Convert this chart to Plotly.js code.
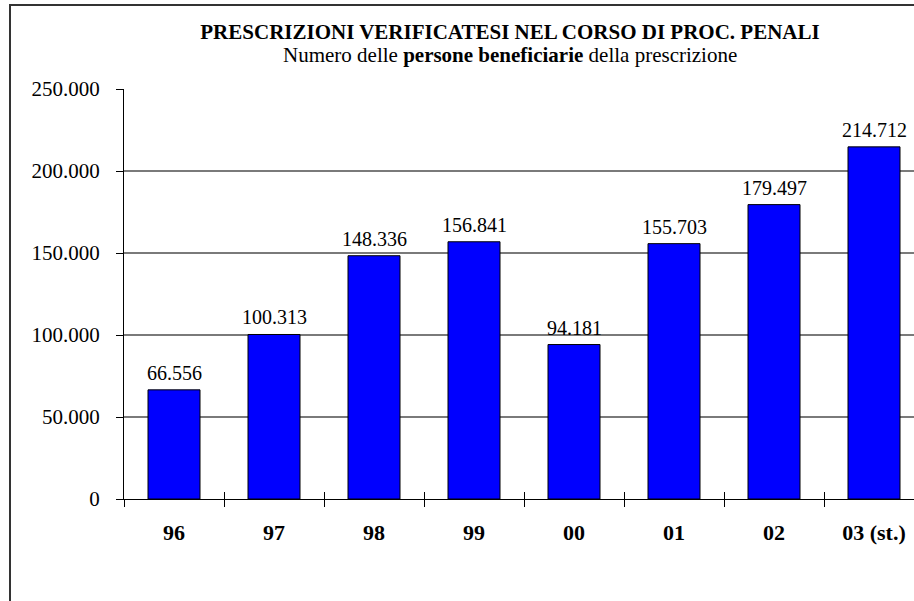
<!DOCTYPE html>
<html>
<head>
<meta charset="utf-8">
<script src="https://cdn.plot.ly/plotly-3.0.1.min.js"></script>
<style>
html, body { margin: 0; padding: 0; overflow: hidden; background: #fff; }
#chart { position: absolute; left: 0; top: 0; width: 914px; height: 601px; }
#frame { position: absolute; left: 9px; top: 4px; width: 2000px; height: 2000px;
  border-left: 2px solid #333; border-top: 2px solid #333; pointer-events: none; }
</style>
</head>
<body>
<div id="chart"></div>
<div id="frame"></div>
<script>
const categories = ["96", "97", "98", "99", "00", "01", "02", "03 (st.)"];
const persons = [66556, 100313, 148336, 156841, 94181, 155703, 179497, 214712];
const yTickVals = [0, 50000, 100000, 150000, 200000, 250000];
const boundaries = [-0.5, 0.5, 1.5, 2.5, 3.5, 4.5, 5.5, 6.5];

const serif = "Liberation Serif";

const bar = {
  type: "bar",
  x: categories,
  y: persons,
  width: 0.52,
  marker: { color: "#0000FF", line: { color: "#000000", width: 1 } },
  hoverinfo: "skip"
};

const labels = categories.map((c, i) => ({
  x: i, y: persons[i], xref: "x", yref: "y",
  text: persons[i].toLocaleString("it-IT"),
  showarrow: false, yanchor: "bottom", yshift: 4,
  font: { family: serif, size: 20, color: "#000", weight: "normal" }
}));

labels.push({
  xref: "paper", yref: "paper", x: 0.4886, y: 1.0, yanchor: "bottom", yshift: 20,
  text: "Numero delle <b>persone beneficiarie</b> della prescrizione",
  showarrow: false, font: { family: serif, size: 21, color: "#000" }
});

const layout = {
  width: 914, height: 601,
  margin: { l: 124, r: 0, t: 89, b: 102 },
  paper_bgcolor: "#fff", plot_bgcolor: "#fff",
  separators: ",.",
  showlegend: false,
  font: { family: serif, color: "#000" },
  title: {
    text: "<b>PRESCRIZIONI VERIFICATESI NEL CORSO DI PROC. PENALI</b>",
    x: 0.558, xanchor: "center", y: 0.948, yanchor: "middle",
    font: { family: serif, size: 21, color: "#000" }
  },
  xaxis: {
    type: "category", categoryarray: categories, range: [-0.5, 7.4],
    showline: true, linecolor: "#000", linewidth: 1,
    ticks: "outside", tickson: "boundaries", ticklen: 7, tickcolor: "#000", tickwidth: 1,
    ticklabelstandoff: 14,
    tickfont: { family: serif, size: 22, color: "#000", weight: "bold" },
    showgrid: false, fixedrange: true
  },
  xaxis2: {
    overlaying: "x", type: "linear", range: [-0.5, 7.4],
    tickmode: "array", tickvals: boundaries, ticks: "inside", ticklen: 7,
    tickcolor: "#000", tickwidth: 1, showticklabels: false, showgrid: false,
    showline: false, zeroline: false
  },
  yaxis: {
    range: [0, 250000], tickmode: "array", tickvals: yTickVals, tickformat: ",",
    showline: true, linecolor: "#000", linewidth: 1,
    ticks: "outside", ticklen: 7, tickcolor: "#000", tickwidth: 1,
    ticklabelstandoff: 12,
    showgrid: true, gridcolor: "#7a7a7a", gridwidth: 1.2, zeroline: false,
    tickfont: { family: serif, size: 21, color: "#000", weight: "normal" }, fixedrange: true
  },
  annotations: labels,
  bargap: 0.48
};

Plotly.newPlot("chart", [bar, { type: "scatter", x: [], y: [], xaxis: "x2", yaxis: "y" }], layout, { displayModeBar: false, staticPlot: true });
</script>
</body>
</html>
